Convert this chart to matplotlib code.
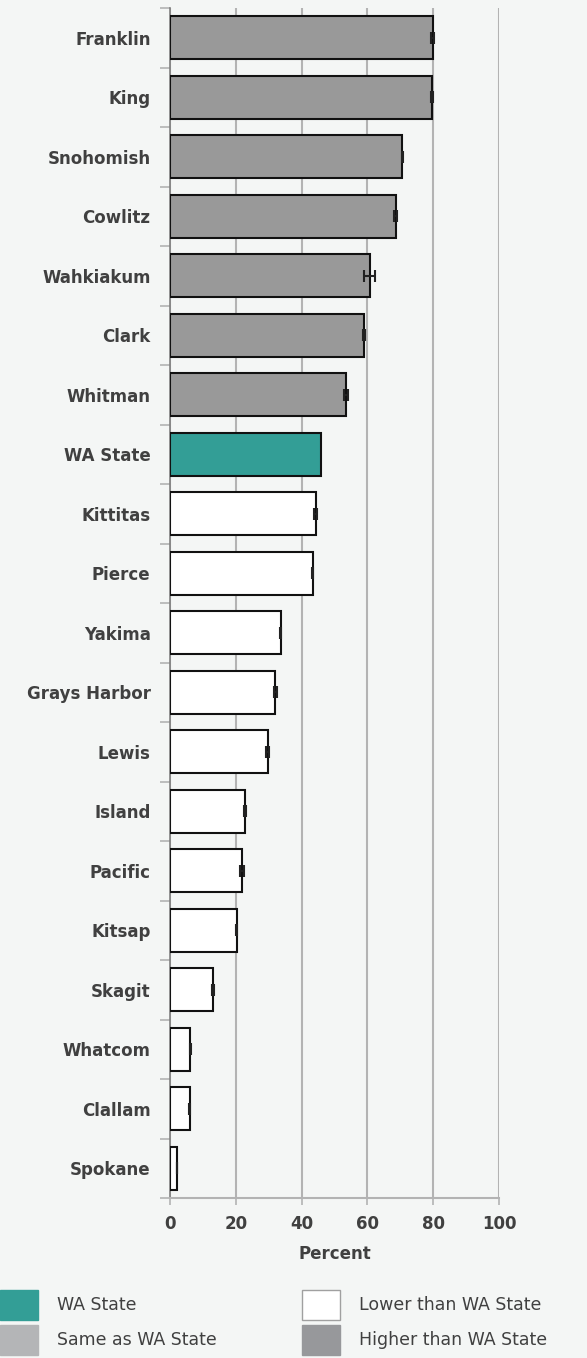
import matplotlib
matplotlib.use("Agg")
import matplotlib.pyplot as plt
from matplotlib.patches import Rectangle
from matplotlib.ticker import FixedLocator
import numpy as np

counties = ["Franklin", "King", "Snohomish", "Cowlitz", "Wahkiakum", "Clark", "Whitman",
            "WA State", "Kittitas", "Pierce", "Yakima", "Grays Harbor", "Lewis", "Island",
            "Pacific", "Kitsap", "Skagit", "Whatcom", "Clallam", "Spokane"]
values = [79.8, 79.6, 70.6, 68.6, 60.7, 58.9, 53.5,
          46.0, 44.3, 43.4, 33.6, 32.0, 29.7, 22.7,
          21.8, 20.3, 13.1, 6.2, 6.0, 2.1]
errors = [0.4, 0.2, 0.2, 0.4, 1.6, 0.3, 0.5,
          0.0, 0.5, 0.2, 0.2, 0.4, 0.4, 0.3,
          0.6, 0.2, 0.2, 0.1, 0.2, 0.1]
status = ["higher"] * 7 + ["state"] + ["lower"] * 12

colors = {"state": "#339e96", "same": "#b4b5b7", "higher": "#999999", "lower": "#ffffff"}
legend_colors = {"state": "#339e96", "same": "#b4b5b7", "higher": "#97989b", "lower": "#ffffff"}
legend_labels = [("state", "WA State"), ("lower", "Lower than WA State"),
                 ("same", "Same as WA State"), ("higher", "Higher than WA State")]

BG = "#f4f6f5"
TXT = "#404040"
GRID = "#b3b3b3"

W, H = 587, 1358
fig = plt.figure(figsize=(W / 100, H / 100), dpi=100, facecolor=BG)
ax = fig.add_axes([170 / W, (H - 1198) / H, (499 - 170) / W, (1198 - 8) / H])
ax.set_facecolor(BG)

y = np.arange(len(counties))
ax.barh(y, values, height=0.72, color=[colors[s] for s in status],
        edgecolor="#111111", linewidth=1.5, zorder=3)
for yi, v, e in zip(y, values, errors):
    if e > 0:
        ax.errorbar(v, yi, xerr=e, fmt="none", ecolor="#222222", elinewidth=1.5,
                    capsize=4, capthick=1.5, zorder=4)

ax.set_ylim(len(counties) - 0.5, -0.5)
ax.set_xlim(0, 100)
ax.set_xticks([0, 20, 40, 60, 80, 100])
ax.set_yticks(y)
ax.set_yticklabels(counties)
ax.yaxis.set_minor_locator(FixedLocator(np.arange(-0.5, len(counties), 1.0)))
ax.tick_params(axis="y", which="major", length=0, pad=14)
ax.tick_params(axis="y", which="minor", length=7, width=1.2, color=GRID)
ax.tick_params(axis="x", which="major", length=5, width=1.2, color=GRID, pad=7)
for lab in ax.get_yticklabels() + ax.get_xticklabels():
    lab.set_fontweight("bold")
    lab.set_color(TXT)
    lab.set_fontsize(12)
    lab.set_family("DejaVu Sans")

ax.grid(axis="x", color=GRID, linewidth=1.5, zorder=0)
for side in ["top", "right"]:
    ax.spines[side].set_visible(False)
ax.spines["left"].set_color("#808080")
ax.spines["left"].set_linewidth(1.2)
ax.spines["bottom"].set_color(GRID)
ax.spines["bottom"].set_linewidth(1.5)

ax.set_xlabel("Percent", fontsize=12, fontweight="bold", color=TXT, labelpad=9)

# legend
positions = [(0, 1305), (302, 1305), (0, 1340), (302, 1340)]
for (key, text), (px, py) in zip(legend_labels, positions):
    rect = Rectangle((px / W, (H - py - 15) / H), 38 / W, 30 / H,
                     transform=fig.transFigure, facecolor=legend_colors[key],
                     edgecolor="#a0a0a0" if key == "lower" else legend_colors[key], linewidth=1)
    fig.patches.append(rect)
    fig.text((px + 57) / W, (H - py) / H, text, fontsize=12.5, color=TXT,
             va="center", ha="left")

fig.savefig("out.png", dpi=100, facecolor=BG)
